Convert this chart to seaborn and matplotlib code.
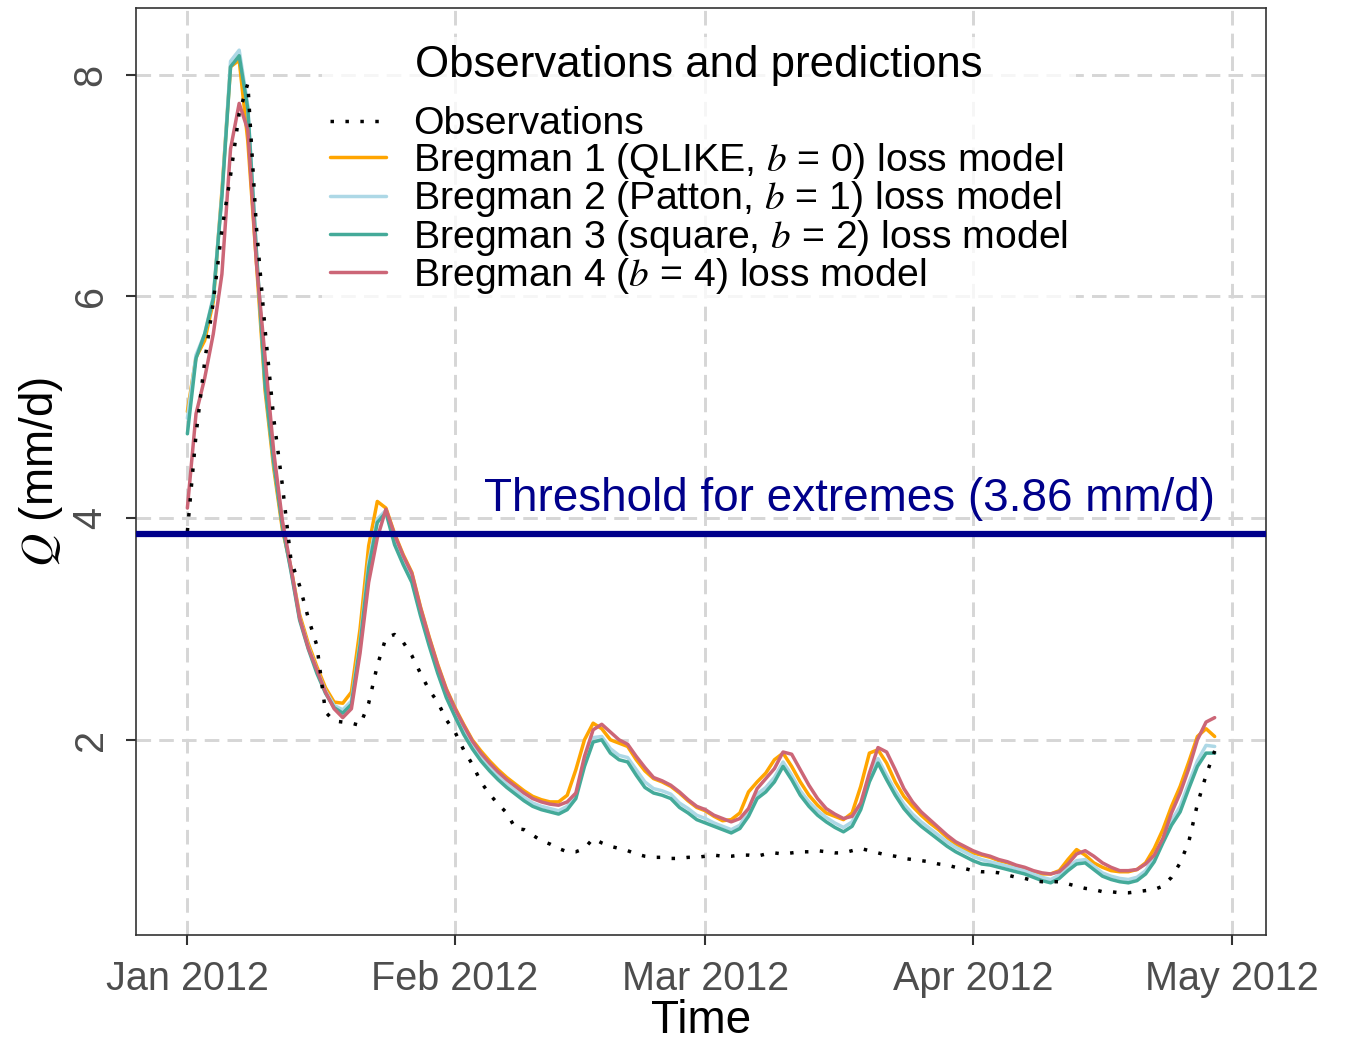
import numpy as np
import pandas as pd
import seaborn as sns
import matplotlib.pyplot as plt
import matplotlib.dates as mdates

# daily values, 1 Jan 2012 .. 29 Apr 2012
start_date = "2012-01-01"

obs = [3.88, 4.75, 5.41, 5.95, 6.6, 7.09, 7.65, 7.92, 6.62, 5.7, 4.9, 4.3,
       3.62, 3.39, 3.1, 2.85, 2.25, 2.17, 2.16, 2.15, 2.13, 2.33, 2.67, 2.92,
       2.95, 2.88, 2.76, 2.6, 2.45, 2.34, 2.18, 2.07, 1.91, 1.78, 1.62, 1.51,
       1.42, 1.34, 1.2, 1.19, 1.14, 1.09, 1.06, 1.02, 0.99, 0.99, 1.02, 1.11,
       1.07, 1.04, 1.02, 1.0, 0.97, 0.95, 0.94, 0.94, 0.93, 0.93, 0.94, 0.94,
       0.95, 0.96, 0.95, 0.95, 0.96, 0.96, 0.95, 0.97, 0.98, 0.97, 0.98, 0.99,
       0.99, 1.0, 0.99, 0.98, 0.98, 1.0, 1.02, 1.0, 0.98, 0.96, 0.95, 0.93,
       0.92, 0.91, 0.9, 0.88, 0.87, 0.85, 0.84, 0.82, 0.81, 0.81, 0.8, 0.78,
       0.76, 0.75, 0.73, 0.72, 0.72, 0.72, 0.7, 0.68, 0.66, 0.65, 0.63, 0.63,
       0.62, 0.62, 0.63, 0.64, 0.65, 0.68, 0.76, 0.89, 1.08, 1.42, 1.68, 1.9]

bregman1 = [4.96, 5.45, 5.6, 5.95, 6.95, 8.07, 8.13, 7.4, 6.3, 5.15, 4.45, 3.9,
            3.55, 3.13, 2.87, 2.66, 2.47, 2.34, 2.33, 2.43, 3.0, 3.75, 4.15, 4.09,
            3.86, 3.67, 3.51, 3.2, 2.93, 2.68, 2.46, 2.29, 2.14, 2.0, 1.9, 1.81,
            1.73, 1.66, 1.6, 1.54, 1.49, 1.46, 1.44, 1.44, 1.5, 1.73, 2.0, 2.15,
            2.1, 2.0, 1.97, 1.94, 1.82, 1.72, 1.65, 1.62, 1.58, 1.52, 1.45, 1.39,
            1.36, 1.31, 1.27, 1.28, 1.34, 1.53, 1.62, 1.7, 1.82, 1.88, 1.76, 1.62,
            1.5, 1.41, 1.34, 1.31, 1.28, 1.34, 1.58, 1.88, 1.91, 1.79, 1.62, 1.49,
            1.4, 1.32, 1.25, 1.19, 1.12, 1.06, 1.02, 0.98, 0.96, 0.94, 0.91, 0.89,
            0.86, 0.84, 0.81, 0.79, 0.79, 0.82, 0.92, 1.01, 0.96, 0.89, 0.85, 0.82,
            0.81, 0.81, 0.83, 0.89, 1.02, 1.19, 1.4, 1.58, 1.8, 2.03, 2.1, 2.03]

bregman2 = [4.9, 5.47, 5.66, 6.0, 6.92, 8.12, 8.22, 7.72, 6.4, 5.22, 4.5, 3.95,
            3.53, 3.1, 2.84, 2.63, 2.44, 2.31, 2.27, 2.35, 2.88, 3.6, 3.99, 4.07,
            3.8, 3.61, 3.45, 3.15, 2.88, 2.63, 2.41, 2.24, 2.09, 1.95, 1.84, 1.75,
            1.67, 1.6, 1.54, 1.48, 1.43, 1.4, 1.38, 1.36, 1.4, 1.5, 1.8, 2.02,
            2.03, 1.92, 1.86, 1.84, 1.73, 1.62, 1.56, 1.54, 1.51, 1.43, 1.38, 1.32,
            1.29, 1.25, 1.22, 1.19, 1.23, 1.35, 1.51, 1.57, 1.66, 1.8, 1.68, 1.54,
            1.44, 1.36, 1.3, 1.25, 1.21, 1.26, 1.41, 1.66, 1.83, 1.68, 1.54, 1.42,
            1.33, 1.26, 1.2, 1.14, 1.08, 1.03, 0.99, 0.95, 0.92, 0.9, 0.88, 0.86,
            0.84, 0.82, 0.79, 0.76, 0.74, 0.78, 0.85, 0.91, 0.92, 0.86, 0.8, 0.77,
            0.75, 0.74, 0.76, 0.82, 0.94, 1.1, 1.27, 1.4, 1.61, 1.81, 1.95, 1.94]

bregman3 = [4.76, 5.44, 5.66, 5.98, 6.9, 8.07, 8.17, 7.69, 6.4, 5.2, 4.5, 3.93,
            3.52, 3.08, 2.82, 2.6, 2.42, 2.29, 2.24, 2.32, 2.85, 3.55, 3.96, 4.05,
            3.76, 3.58, 3.42, 3.12, 2.85, 2.6, 2.38, 2.21, 2.05, 1.92, 1.81, 1.72,
            1.64, 1.57, 1.51, 1.45, 1.4, 1.37, 1.35, 1.33, 1.37, 1.47, 1.76, 1.98,
            2.0, 1.88, 1.82, 1.8, 1.68, 1.57, 1.52, 1.5, 1.47, 1.39, 1.34, 1.28,
            1.25, 1.22, 1.19, 1.16, 1.2, 1.31, 1.47, 1.53, 1.62, 1.76, 1.64, 1.5,
            1.4, 1.32, 1.26, 1.21, 1.17, 1.22, 1.37, 1.62, 1.79, 1.64, 1.5, 1.38,
            1.29, 1.22, 1.16, 1.1, 1.04, 0.99, 0.95, 0.91, 0.88, 0.87, 0.85, 0.83,
            0.81, 0.79, 0.76, 0.73, 0.71, 0.75, 0.82, 0.88, 0.89, 0.83, 0.77, 0.74,
            0.72, 0.71, 0.73, 0.79, 0.9, 1.07, 1.23, 1.35, 1.56, 1.76, 1.88, 1.88]

bregman4 = [4.09, 4.94, 5.26, 5.66, 6.2, 7.33, 7.74, 7.5, 6.3, 5.45, 4.6, 3.98,
            3.55, 3.1, 2.83, 2.63, 2.43, 2.28, 2.2, 2.28, 2.78, 3.42, 3.82, 4.08,
            3.85, 3.66, 3.5, 3.19, 2.92, 2.67, 2.45, 2.28, 2.13, 1.99, 1.88, 1.79,
            1.71, 1.64, 1.58, 1.52, 1.47, 1.44, 1.42, 1.41, 1.44, 1.52, 1.85, 2.09,
            2.14, 2.07, 2.0, 1.96, 1.85, 1.75, 1.66, 1.63, 1.59, 1.53, 1.46, 1.4,
            1.37, 1.32, 1.29, 1.26, 1.29, 1.38, 1.56, 1.65, 1.74, 1.89, 1.87, 1.73,
            1.59, 1.47, 1.38, 1.33, 1.29, 1.31, 1.43, 1.7, 1.93, 1.89, 1.73, 1.56,
            1.44, 1.35, 1.28, 1.21, 1.14, 1.08, 1.04, 1.0, 0.97, 0.95, 0.92, 0.9,
            0.87, 0.85, 0.82, 0.8, 0.79, 0.81, 0.88, 0.97, 1.0, 0.95, 0.89, 0.85,
            0.82, 0.82, 0.83, 0.88, 0.96, 1.11, 1.34, 1.52, 1.74, 2.0, 2.16, 2.2]

threshold = 3.86

labels = ["Observations",
          "Bregman 1 (QLIKE, $b$ = 0) loss model",
          "Bregman 2 (Patton, $b$ = 1) loss model",
          "Bregman 3 (square, $b$ = 2) loss model",
          "Bregman 4 ($b$ = 4) loss model"]
colors = ["black", "#FFA500", "#ADD8E6", "#44AA99", "#CC6677"]

dates = pd.date_range(start_date, periods=len(obs), freq="D")
df = pd.DataFrame({"date": dates, "obs": obs, "b1": bregman1, "b2": bregman2,
                   "b3": bregman3, "b4": bregman4})

sns.set_style("white")
plt.rcParams["font.family"] = ["Liberation Sans", "DejaVu Sans"]
plt.rcParams["mathtext.fontset"] = "stix"
plt.rcParams["text.color"] = "black"

fig, ax = plt.subplots(figsize=(13.48, 10.43), dpi=100)
fig.subplots_adjust(left=0.1009, right=0.9392, bottom=0.1036, top=0.9923)

lw = 2.5
for col, lab, c in zip(["b1", "b2", "b3", "b4"], labels[1:], colors[1:]):
    sns.lineplot(data=df, x="date", y=col, color=c, lw=lw, label=lab, ax=ax)
sns.lineplot(data=df, x="date", y="obs", color="black", lw=2.5,
             linestyle=(0, (1, 3.3)), dash_capstyle="butt", label=labels[0], ax=ax)

ax.axhline(threshold, color="#00008B", lw=4.5, zorder=3)
ax.text(dates[-1], threshold + 0.11, f"Threshold for extremes ({threshold} mm/d)",
        color="#00008B", fontsize=33, ha="right", va="bottom")

# ggplot-like 5% expansion
span = dates[-1] - dates[0]
ax.set_xlim(dates[0] - span * 0.05, dates[-1] + span * 0.05)
allv = np.concatenate([obs, bregman1, bregman2, bregman3, bregman4])
yr = allv.max() - allv.min()
ax.set_ylim(allv.min() - 0.05 * yr, allv.max() + 0.05 * yr)

ax.xaxis.set_major_locator(mdates.MonthLocator())
ax.xaxis.set_major_formatter(mdates.DateFormatter("%b %Y"))
ax.set_yticks([2, 4, 6, 8])
for t in ax.get_yticklabels():
    t.set_rotation(90)
    t.set_va("center")

ax.grid(True, color="#D6D6D6", lw=2.1, linestyle=(0, (5, 2.8)))
ax.set_axisbelow(True)
for s in ax.spines.values():
    s.set_color("#333333")
    s.set_linewidth(1.2)
ax.tick_params(axis="both", length=7, width=1.5, color="#333333",
               labelcolor="#4D4D4D", labelsize=28.5, bottom=True, left=True)
ax.tick_params(axis="y", pad=12)
ax.tick_params(axis="x", pad=11)

ax.set_xlabel("Time", fontsize=33, labelpad=1, color="black")
ax.set_ylabel("$Q$ (mm/d)", fontsize=33, labelpad=5, color="black")

h, l = ax.get_legend_handles_labels()
order = [l.index(x) for x in labels]
leg = ax.legend([h[i] for i in order], [l[i] for i in order],
                title="Observations and predictions", title_fontsize=31.5,
                fontsize=28.3, loc="upper left", bbox_to_anchor=(0.1646, 0.969),
                frameon=True, framealpha=0.8, edgecolor="none", fancybox=False,
                handlelength=1.43, handletextpad=0.68, labelspacing=-0.04,
                borderpad=0.2, borderaxespad=0, labelcolor="black")
leg.get_title().set_color("black")
leg._legend_box.sep = 15

fig.savefig("out.png", dpi=100)
